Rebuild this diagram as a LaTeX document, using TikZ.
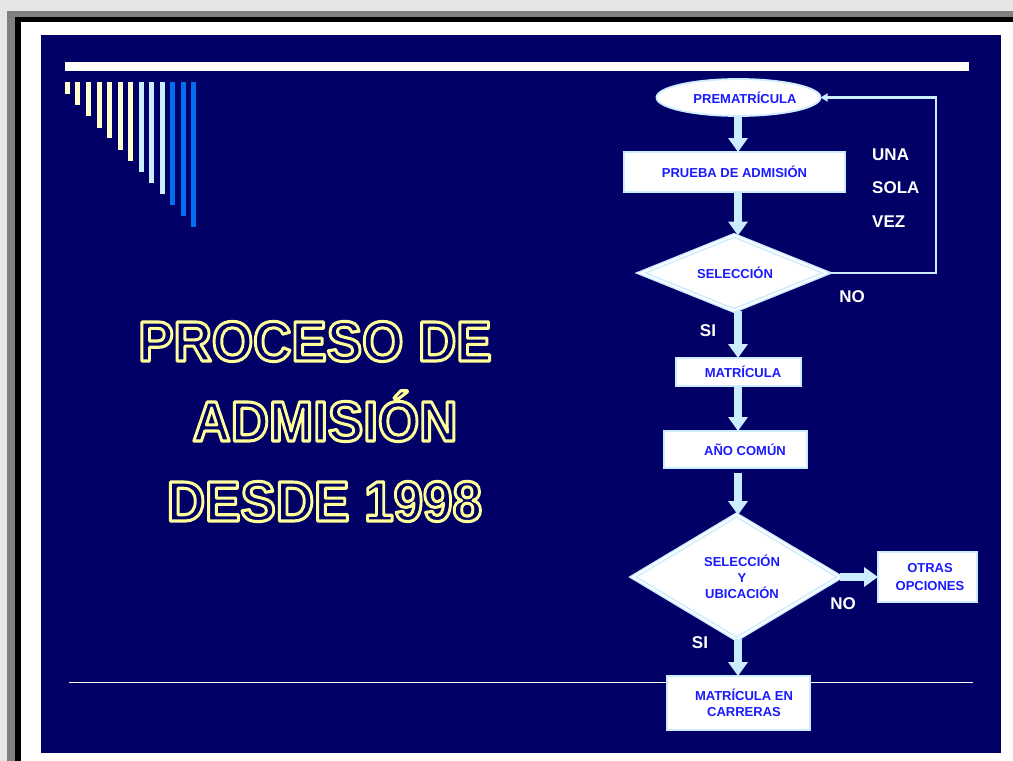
\documentclass[tikz,border=0pt]{standalone}
\usepackage{graphicx}
\usepackage{fontspec}
\setmainfont{Liberation Sans}
\usetikzlibrary{shapes.geometric,arrows.meta,calc}
\definecolor{navyc}{HTML}{000066}
\definecolor{lbc}{HTML}{CCECFF}
\definecolor{txtblue}{HTML}{1A1AFF}
\definecolor{ylw}{HTML}{FFFF99}
\definecolor{barY}{HTML}{FFFFCC}
\definecolor{barL}{HTML}{CCECFF}
\definecolor{barB}{HTML}{0070F0}
\definecolor{frameL}{HTML}{E6E6E6}
\definecolor{frameG}{HTML}{808080}
\newcommand\myNodeFont{\fontsize{13}{16}\selectfont\bfseries}
\newcommand\myLblFont{\fontsize{17}{20}\selectfont\bfseries}
\newcommand\myTitleFont{\fontsize{53}{60}\selectfont\bfseries}
\newcommand\myOutline[1]{\scalebox{1}[1.07]{\special{pdf:literal direct 1 Tr 2.9 w 1 j}#1\special{pdf:literal direct 0 Tr}}}
\begin{document}
\begin{tikzpicture}[x=1pt,y=-1pt,
  box/.style={rectangle, draw=lbc, line width=1.6pt, fill=white, text=txtblue,
    font=\myNodeFont, inner sep=0pt, outer sep=0pt, align=center},
  dia/.style={diamond, draw=lbc, line width=1.5pt, double=white, double distance=1.8pt,
    fill=white, text=txtblue, font=\myNodeFont, inner sep=0pt, outer sep=0pt, align=center},
  ell/.style={ellipse, draw=lbc, line width=1.8pt, fill=white, text=txtblue,
    font=\myNodeFont, inner sep=0pt, outer sep=0pt},
  flow/.style={draw=lbc, line width=8pt, -{Triangle[width=19pt,length=14pt]}},
  loopline/.style={draw=lbc, line width=2.5pt, -{Triangle[width=8pt,length=7pt]}},
  lbl/.style={text=white, font=\myLblFont, inner sep=0pt},
  ttl/.style={text=ylw, font=\myTitleFont, inner sep=0pt, anchor=base}]
\useasboundingbox (0,0) rectangle (1013,761);
% frame
\fill[frameL] (0,0) rectangle (1013,761);
\fill[frameG] (7,11) rectangle (1013,761);
\fill[black] (15,17) rectangle (1013,761);
\fill[white] (21,22) rectangle (1013,761);
\fill[navyc] (41,35) rectangle (1001,753);
% top bar and decorative bars
\fill[white] (65,62) rectangle (969,71);
\foreach \x/\b/\c in {65/94/barY,75/105/barY,86/116/barY,97/128/barY,107/138/barY,
  118/150/barY,128/161/barY,139/172/barL,149/183/barL,160/194/barL,170/205/barB,
  181/216/barB,191/227/barB}
  \fill[\c] (\x,82) rectangle (\x+5,\b);
% bottom line
\draw[white, line width=1pt] (69,682) -- (973,682);
% title
\node[ttl] (t1) at (315,361) {\myOutline{PROCESO DE}};
\node[ttl] (t2) at (325,441) {\myOutline{ADMISIÓN}};
\node[ttl] (t3) at (324.5,521) {\myOutline{DESDE 1998}};
% flowchart nodes
\coordinate (col) at (738,0);
\coordinate (loopc) at (936,98);
\node[ell, minimum width=161pt, minimum height=37pt] (pre) at (738.5,97.5) {\hspace*{13pt}PREMATRÍCULA};
\node[box, minimum width=221pt, minimum height=40pt] (prueba) at (734.5,172) {PRUEBA DE ADMISIÓN};
\node[dia, aspect=2.5, minimum width=186pt, minimum height=75pt] (sel1) at (734,273) {\hspace*{2pt}SELECCIÓN};
\node[box, minimum width=125pt, minimum height=28pt] (mat) at (738.5,372) {\hspace*{9pt}MATRÍCULA};
\node[box, minimum width=143pt, minimum height=37pt] (ano) at (735.5,449.5) {\hspace*{19pt}AÑO COMÚN};
\node[dia, aspect=1.67, minimum width=207pt, minimum height=124pt] (sel2) at (736.5,577)
  {\hspace*{11pt}SELECCIÓN\\\hspace*{11pt}Y\\\hspace*{11pt}UBICACIÓN};
\node[box, minimum width=99pt, minimum height=50pt, font=\fontsize{13}{18}\selectfont\bfseries] (otras) at (927.5,577)
  {\hspace*{5pt}OTRAS\\\hspace*{5pt}OPCIONES};
\node[box, minimum width=143pt, minimum height=54pt] (carr) at (738.5,703)
  {\hspace*{11pt}MATRÍCULA EN\\\hspace*{11pt}CARRERAS};
% labels
\node[lbl, anchor=west] (una) at (872,155) {UNA};
\node[lbl, anchor=west] (sola) at (872,188) {SOLA};
\node[lbl, anchor=west] (vez) at (872,222) {VEZ};
\node[lbl] (no1) at (852,297) {NO};
\node[lbl] (si1) at (708,331) {SI};
\node[lbl] (no2) at (843,604) {NO};
\node[lbl] (si2) at (700,643) {SI};
% connectors
\draw[flow] (pre.south -| col) -- (prueba.north -| col);
\draw[flow] (prueba.south -| col) -- (sel1.north -| col);
\draw[flow] (sel1.south -| col) -- (mat.north -| col);
\draw[flow] (mat.south -| col) -- (ano.north -| col);
\draw[flow] ($(ano.south -| col)+(0,5)$) -- (sel2.north -| col);
\draw[flow] (sel2.south -| col) -- (carr.north -| col);
\draw[flow] (sel2.east) -- (otras.west);
\draw[loopline] (sel1.east) -| (loopc) |- (pre.east);
\end{tikzpicture}
\end{document}
